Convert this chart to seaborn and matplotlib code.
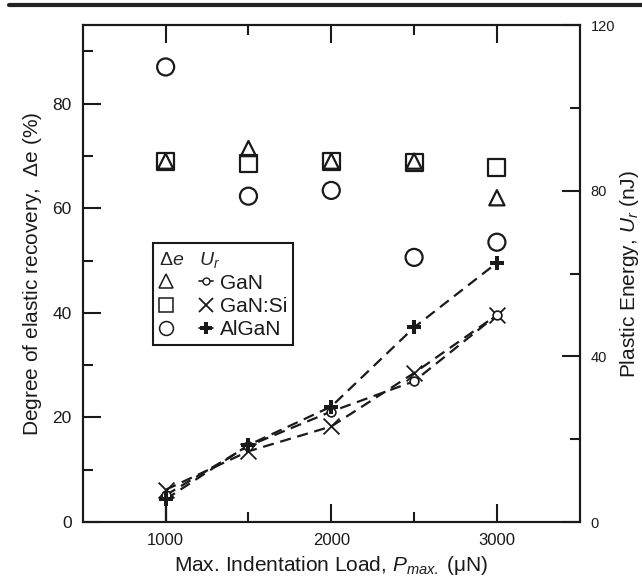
import seaborn as sns
import matplotlib.pyplot as plt
import pandas as pd
from matplotlib.lines import Line2D
from matplotlib.legend_handler import HandlerTuple

sns.set_theme(style="ticks")
plt.rcParams['font.family'] = ['Liberation Sans', 'DejaVu Sans']
plt.rcParams['mathtext.fontset'] = 'custom'
plt.rcParams['mathtext.rm'] = 'Liberation Sans'
plt.rcParams['mathtext.it'] = 'Liberation Sans:italic'

# data
loads = [1000, 1500, 2000, 2500, 3000]
de_gan = [69.0, 71.4, 69.0, 69.0, 62.0]
de_gansi = [69.0, 68.6, 69.0, 68.8, 67.7]
de_algan = [87.0, 62.3, 63.4, 50.6, 53.5]
ur_gan = [6.5, 18.4, 26.7, 34.0, 50.0]
ur_gansi = [7.8, 17.1, 23.1, 36.0, 50.0]
ur_algan = [5.5, 18.6, 27.9, 47.0, 62.6]

ink = "#1a1a1a"

fig = plt.figure(figsize=(6.42, 5.84), dpi=100)
ax = fig.add_axes([0.129, 0.106, 0.774, 0.851])
ax2 = ax.twinx()

# degree of elastic recovery (left axis), open markers
de = pd.DataFrame({"load": loads, "GaN": de_gan, "GaN:Si": de_gansi, "AlGaN": de_algan})
for col, mk, ms in [("GaN:Si", "s", 150), ("GaN", "^", 120), ("AlGaN", "o", 150)]:
    sns.scatterplot(data=de, x="load", y=col, ax=ax, marker=mk, s=ms,
                    facecolor="none", edgecolor=ink, linewidth=1.6, zorder=3)

# plastic energy (right axis), dashed lines
ur = pd.DataFrame({"load": loads, "GaN": ur_gan, "GaN:Si": ur_gansi, "AlGaN": ur_algan})
for col in ["GaN", "GaN:Si", "AlGaN"]:
    sns.lineplot(data=ur, x="load", y=col, ax=ax2, color=ink, linestyle=(0, (5, 3)),
                 linewidth=1.6, zorder=2)
sns.scatterplot(data=ur, x="load", y="GaN:Si", ax=ax2, marker="x", s=130,
                color=ink, linewidth=1.3, zorder=4)
sns.scatterplot(data=ur, x="load", y="GaN", ax=ax2, marker="o", s=40,
                facecolor="white", edgecolor=ink, linewidth=1.2, zorder=4)
sns.scatterplot(data=ur, x="load", y="AlGaN", ax=ax2, marker="P", s=110,
                color=ink, linewidth=0, zorder=5)
ax2.errorbar([loads[0]], [ur_algan[0]], yerr=[[ur_algan[0]], [0]], fmt="none",
             ecolor=ink, elinewidth=1.6, capsize=0, zorder=5)

ax.set_xlim(500, 3500)
ax.set_ylim(0, 95)
ax2.set_ylim(0, 120)
ax.set_xticks([1000, 2000, 3000])
ax.set_xticks([1500, 2500], minor=True)
ax.set_yticks([0, 20, 40, 60, 80])
ax.set_yticks([10, 30, 50, 70, 90], minor=True)
ax2.set_yticks([0, 40, 80, 120])
ax2.set_yticks([20, 60, 100], minor=True)

ax.tick_params(axis="x", which="both", direction="in", top=True, colors=ink,
               labelsize=12, pad=8)
ax.tick_params(axis="y", which="both", direction="in", right=False, colors=ink,
               labelsize=12.5, pad=8)
ax2.tick_params(axis="y", which="both", direction="in", colors=ink, labelsize=10.5, pad=8)
for a in (ax, ax2):
    a.tick_params(which="major", length=13, width=1.5)
    a.tick_params(which="minor", length=7.5, width=1.5)
    for s in a.spines.values():
        s.set_linewidth(1.5)
        s.set_color(ink)

ax.set_xlabel("Max. Indentation Load, $P_{max.}$ (\u03bcN)", fontsize=15, color=ink, labelpad=4)
ax.set_ylabel(r"Degree of elastic recovery,  $\Delta$e (%)", fontsize=15, color=ink, labelpad=6)
ax2.set_ylabel(r"Plastic Energy, $U_r$ (nJ)", fontsize=15, color=ink, labelpad=2)

# legend: two marker columns per sample
def open_mk(m, ms=10):
    return Line2D([], [], marker=m, ls="none", ms=ms, mfc="white", mec=ink, mew=1.1)

handles = [
    (open_mk("^"), Line2D([], [], marker="o", ms=5, ls="-", lw=1.2, color=ink, mfc="white", mec=ink)),
    (open_mk("s"), Line2D([], [], marker="x", ms=10, ls="none", color=ink, mew=1.3)),
    (open_mk("o"), Line2D([], [], marker="P", ms=8, ls="-", lw=1.2, color=ink, mew=0)),
]
leg = ax2.legend(handles, ["GaN", "GaN:Si", "AlGaN"],
                 handler_map={tuple: HandlerTuple(ndivide=None, pad=1.2)},
                 title=r"$\Delta e$   $U_r$", title_fontsize=14, fontsize=15,
                 loc="upper left", bbox_to_anchor=(0.141, 0.561), borderaxespad=0,
                 handlelength=2.6, handletextpad=0.3, labelspacing=0.2,
                 borderpad=0.3, fancybox=False, framealpha=1, edgecolor=ink)
leg.get_frame().set_linewidth(1.5)
leg._legend_box.align = "left"
for t in leg.get_texts():
    t.set_color(ink)

# rule across the top of the figure
fig.add_artist(Line2D([0.014, 1.0], [0.991, 0.991], color="#222222", lw=3))

fig.savefig("out.png", dpi=100)
